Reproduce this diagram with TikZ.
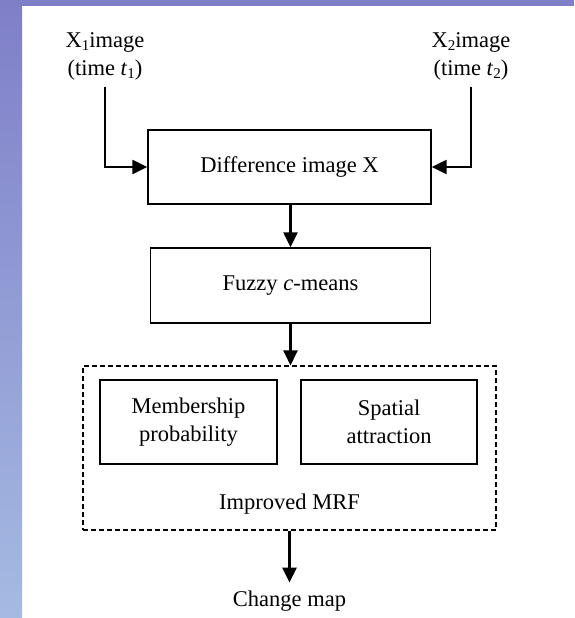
\documentclass[tikz,border=0pt]{standalone}
\usepackage{fontspec}
\setmainfont{Liberation Serif}
\usetikzlibrary{arrows.meta}
\definecolor{bandtop}{RGB}{127,127,200}
\definecolor{bandbot}{RGB}{165,186,226}
\newcommand{\lowsub}[1]{\raisebox{-0.35ex}{\fontsize{15}{15}\selectfont #1}}
\tikzset{
  txt/.style={font=\fontsize{22.5}{28}\selectfont, align=center, inner sep=0pt},
  blk/.style={draw, line width=1.4pt, txt},
  arr/.style={line width=2.4pt, -{Triangle[length=15pt,width=14pt]}},
  grp/.style={draw, dashed, dash pattern=on 5pt off 3pt, line width=1.1pt}
}
\begin{document}
\begin{tikzpicture}[x=1pt,y=-1pt]
\useasboundingbox (0,0) rectangle (574,618);
\fill[white] (0,0) rectangle (574,618);
\shade[top color=bandtop, bottom color=bandbot] (0,0) rectangle (22,618);
\fill[bandtop] (0,0) rectangle (574,6);

\node[txt, inner ysep=7pt] (x1) at (105,56) {X\lowsub{1}image\\(time \textit{t}\lowsub{1})};
\node[txt, inner ysep=7pt] (x2) at (471,56) {X\lowsub{2}image\\(time \textit{t}\lowsub{2})};

\node[blk, minimum width=283pt, minimum height=74pt] (diff) at (289.5,167) {Difference image X};
\node[blk, minimum width=280pt, minimum height=75pt] (fcm) at (290.5,285.5) {Fuzzy \textit{c}-means};

\node[grp, minimum width=413pt, minimum height=164pt] (mrf) at (289.5,448) {};
\node[blk, minimum width=177pt, minimum height=84pt] (mem) at (188.5,422) {Membership\\probability};
\node[blk, minimum width=176pt, minimum height=84pt] (spa) at (389,422) {Spatial\\attraction};
\node[txt] (mrflab) at (289.5,504) {Improved MRF};

\node[txt, inner ysep=8pt] (cmap) at (289.5,601) {Change map};

\draw[arr] (x1.south) |- (diff.west);
\draw[arr] (x2.south) |- (diff.east);
\draw[arr] (diff.south -| fcm.north) -- (fcm.north);
\draw[arr] (fcm.south) -- (fcm.south |- mrf.north);
\draw[arr] (mrf.south) -- (cmap.north);
\end{tikzpicture}
\end{document}
